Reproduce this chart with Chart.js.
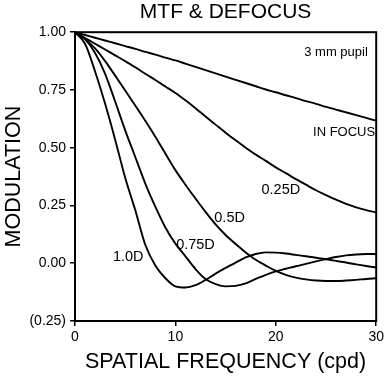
<!DOCTYPE html>
<html><head><meta charset="utf-8">
<script src="https://cdn.jsdelivr.net/npm/chart.js@4.4.1/dist/chart.umd.min.js"></script>
<style>html,body{margin:0;padding:0;background:#fff;}#wrap{width:387px;height:376px;}</style>
</head><body><div id="wrap"><canvas id="c" width="387" height="376"></canvas></div>
<script>
// Spatial frequency (cpd)
const freq = [0,1,2,3,4,5,6,7,8,9,10,11,12,13,14,15,16,17,18,19,20,21,22,23,24,25,26,27,28,29,30];
const inFocus = [1.000,0.988,0.976,0.964,0.952,0.940,0.928,0.915,0.903,0.890,0.878,0.864,0.850,0.836,0.822,0.808,0.794,0.780,0.766,0.752,0.740,0.727,0.715,0.702,0.690,0.677,0.665,0.653,0.641,0.629,0.617];
const d025 = [1.000,0.975,0.950,0.925,0.900,0.875,0.848,0.820,0.793,0.765,0.737,0.705,0.671,0.635,0.600,0.565,0.532,0.500,0.470,0.443,0.415,0.390,0.364,0.340,0.316,0.295,0.275,0.257,0.242,0.230,0.220];
const d050 = [1.000,0.970,0.930,0.875,0.812,0.748,0.683,0.617,0.548,0.475,0.403,0.340,0.280,0.222,0.168,0.122,0.083,0.047,0.015,-0.010,-0.033,-0.050,-0.062,-0.070,-0.075,-0.077,-0.077,-0.075,-0.072,-0.068,-0.065];
const d075 = [1.000,0.970,0.910,0.820,0.700,0.575,0.460,0.345,0.245,0.155,0.085,0.030,-0.025,-0.068,-0.090,-0.100,-0.098,-0.087,-0.068,-0.050,-0.035,-0.024,-0.013,-0.003,0.008,0.018,0.027,0.034,0.038,0.040,0.040];
const d100 = [1.000,0.950,0.830,0.690,0.535,0.370,0.230,0.080,-0.010,-0.065,-0.100,-0.105,-0.095,-0.072,-0.045,-0.020,0.003,0.025,0.040,0.047,0.046,0.042,0.036,0.030,0.024,0.017,0.010,0.003,-0.005,-0.012,-0.018];
const seriesNames = ["IN FOCUS","0.25D","0.5D","0.75D","1.0D"];
const seriesValues = [inFocus, d025, d050, d075, d100];
const xTicks = [0,10,20,30];
const yTicks = [-0.25,0,0.25,0.5,0.75,1.0];

const FONT = "'Liberation Sans', Arial, Helvetica, sans-serif";

// text annotations placed in data coordinates
const notes = [
  {text:"3 mm pupil", x:26.0, y:0.913, size:13},
  {text:"IN FOCUS", x:26.8, y:0.565, size:13},
  {text:"0.25D", x:20.5, y:0.317, size:14.5},
  {text:"0.5D", x:15.4, y:0.196, size:14.5},
  {text:"0.75D", x:12.0, y:0.078, size:14.5},
  {text:"1.0D", x:5.3, y:0.026, size:14.5}
];

const notesPlugin = {
  id:'notes',
  afterDatasetsDraw(chart){
    const ctx = chart.ctx, xs = chart.scales.x, ys = chart.scales.y;
    ctx.save();
    ctx.fillStyle = '#000';
    ctx.textAlign = 'center';
    ctx.textBaseline = 'middle';
    notes.forEach(n=>{
      ctx.font = n.size + "px " + FONT;
      ctx.fillText(n.text, xs.getPixelForValue(n.x), ys.getPixelForValue(n.y));
    });
    ctx.restore();
  }
};
const framePlugin = {
  id:'frame',
  afterDraw(chart){
    const a = chart.chartArea, ctx = chart.ctx;
    ctx.save();
    ctx.strokeStyle = '#000';
    ctx.lineWidth = 2;
    ctx.strokeRect(a.left, a.top, a.right - a.left, a.bottom - a.top);
    ctx.restore();
  }
};

const datasets = seriesNames.map((name,i)=>({
  label:name,
  data: freq.map((f,j)=>({x:f, y:seriesValues[i][j]})),
  showLine:true,
  borderColor:'#000',
  borderWidth:1.9,
  pointRadius:0,
  fill:false,
  cubicInterpolationMode:'monotone'
}));

new Chart(document.getElementById('c'), {
  type:'scatter',
  data:{datasets},
  plugins:[notesPlugin, framePlugin],
  options:{
    responsive:false,
    animation:false,
    devicePixelRatio:1,
    layout:{padding:{left:0,right:10,top:0,bottom:0}},
    plugins:{
      legend:{display:false},
      tooltip:{enabled:false},
      title:{display:true, fullSize:false, text:'MTF & DEFOCUS', color:'#000',
        font:{family:FONT, size:21, weight:'normal'}, padding:{top:0,bottom:7}}
    },
    scales:{
      x:{
        type:'linear', min:0, max:30,
        afterBuildTicks(s){ s.ticks = xTicks.map(v=>({value:v})); },
        afterFit(s){ s.height = 55; },
        ticks:{color:'#000', font:{family:FONT,size:14}, padding:3, maxRotation:0, autoSkip:false},
        grid:{drawOnChartArea:false, drawTicks:true, tickLength:5, color:'#000', lineWidth:1.5},
        border:{display:true, color:'#000', width:2},
        title:{display:true, text:'SPATIAL FREQUENCY (cpd)', color:'#000',
          font:{family:FONT,size:21.5}, padding:{top:0,bottom:1}}
      },
      y:{
        type:'linear', min:-0.25, max:1.0,
        afterBuildTicks(s){ s.ticks = yTicks.map(v=>({value:v})); },
        afterFit(s){ s.width = 75; },
        ticks:{color:'#000', font:{family:FONT,size:14}, padding:4, autoSkip:false,
          callback(v){ const r = Math.round(v*100)/100; return r < 0 ? '(' + Math.abs(r).toFixed(2) + ')' : r.toFixed(2); }},
        grid:{drawOnChartArea:false, drawTicks:true, tickLength:5, color:'#000', lineWidth:1.5},
        border:{display:true, color:'#000', width:2},
        title:{display:true, text:'MODULATION', color:'#000',
          font:{family:FONT,size:21.5}, padding:{top:1,bottom:0}}
      }
    }
  }
});
</script>
</body></html>
